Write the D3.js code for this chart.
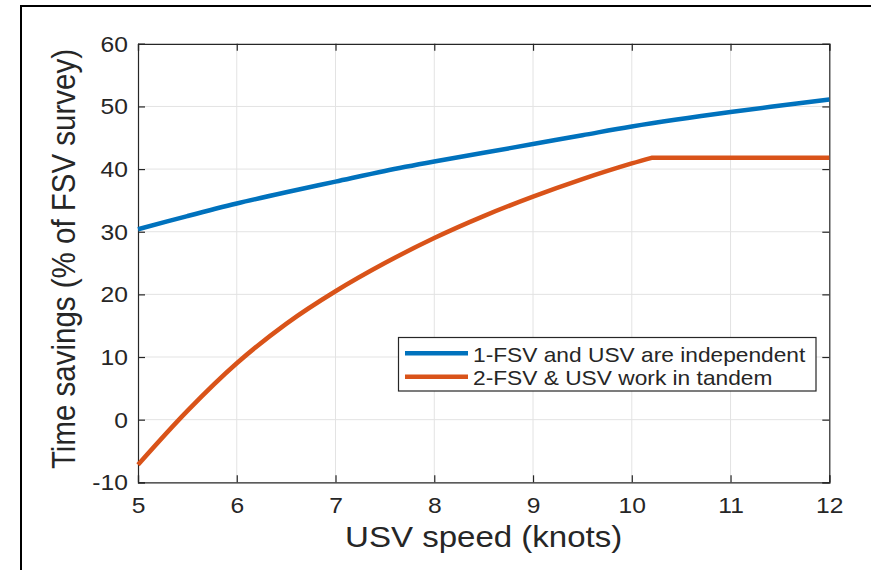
<!DOCTYPE html>
<html>
<head>
<meta charset="utf-8">
<script src="https://cdn.jsdelivr.net/npm/d3@7"></script>
<style>
  body { margin: 0; background: #fff; }
  svg { display: block; font-family: "Liberation Sans", Arial, sans-serif; }
</style>
</head>
<body>
<svg width="871" height="570"></svg>
<script>
// data
const speeds = [5, 5.5, 6, 6.5, 7, 7.5, 8, 8.5, 9, 9.5, 10, 11, 12];
const independent = [30.4, 32.5, 34.5, 36.3, 38.0, 39.7, 41.2, 42.6, 44.0, 45.4, 46.8, 49.1, 51.1];
const tandemSpeeds = [5, 5.5, 6, 6.5, 7, 7.5, 8, 8.5, 9, 9.5, 10, 10.2, 11, 12];
const tandem = [-7.2, 1.4, 9.0, 15.3, 20.5, 25.0, 29.0, 32.5, 35.6, 38.4, 40.9, 41.8, 41.8, 41.8];
const kinkIndex = 11; // tandem curve turns flat here
const xTicks = [5, 6, 7, 8, 9, 10, 11, 12];
const yTicks = [-10, 0, 10, 20, 30, 40, 50, 60];
const seriesNames = ["1-FSV and USV are independent", "2-FSV & USV work in tandem"];
const seriesColors = ["#0072BD", "#D95319"];

const svg = d3.select("svg");
const stretch = "scale(1.12,1)"; // the source picture is a bit wider than tall
const axisColor = "#262626";

// outer frame (top and left only)
svg.append("path")
    .attr("d", "M21,570 V6 H871")
    .attr("fill", "none")
    .attr("stroke", "#000")
    .attr("stroke-width", 2);

const plot = {left: 138, right: 829.3, top: 43.8, bottom: 482.3};

const x = d3.scaleLinear().domain([5, 12]).range([plot.left, plot.right]);
const y = d3.scaleLinear().domain([-10, 60]).range([plot.bottom, plot.top]);

// grid
const grid = svg.append("g").attr("stroke", "#e3e3e3").attr("stroke-width", 1);
grid.selectAll(".gx").data(xTicks.slice(1, -1)).enter().append("line")
    .attr("x1", d => x(d)).attr("x2", d => x(d))
    .attr("y1", plot.top).attr("y2", plot.bottom);
grid.selectAll(".gy").data(yTicks.slice(1, -1)).enter().append("line")
    .attr("x1", plot.left).attr("x2", plot.right)
    .attr("y1", d => y(d)).attr("y2", d => y(d));

const plain = d => String(d); // keep hyphen minus like the source

// axes, ticks inward like matlab
const xAxis = svg.append("g")
    .attr("transform", `translate(0,${plot.bottom})`)
    .call(d3.axisBottom(x).tickValues(xTicks).tickFormat(plain).tickSize(-7).tickPadding(0));
xAxis.selectAll("text")
    .attr("y", 31)
    .attr("dy", null)
    .attr("font-size", 22)
    .attr("transform", stretch);

const yAxis = svg.append("g")
    .attr("transform", `translate(${plot.left},0)`)
    .call(d3.axisLeft(y).tickValues(yTicks).tickFormat(plain).tickSize(-7).tickPadding(0));
yAxis.selectAll("text")
    .attr("x", -9)
    .attr("dy", "0.34em")
    .attr("font-size", 22)
    .attr("transform", stretch);

// top and right ticks
svg.append("g")
    .attr("transform", `translate(0,${plot.top})`)
    .call(d3.axisTop(x).tickValues(xTicks).tickSize(-7).tickFormat(""));
svg.append("g")
    .attr("transform", `translate(${plot.right},0)`)
    .call(d3.axisRight(y).tickValues(yTicks).tickSize(-7).tickFormat(""));

svg.selectAll(".domain, .tick line").attr("stroke", axisColor).attr("stroke-width", 1.2);
svg.selectAll(".tick text").attr("fill", axisColor).attr("font-family", "Liberation Sans, Arial, sans-serif");

// lines
const smooth = d3.line().x(d => x(d[0])).y(d => y(d[1])).curve(d3.curveCatmullRom.alpha(0.5));
const straight = d3.line().x(d => x(d[0])).y(d => y(d[1]));

const blueData = speeds.map((s, i) => [s, independent[i]]);
const orangeData = tandemSpeeds.map((s, i) => [s, tandem[i]]);

svg.append("path")
    .attr("d", smooth(blueData))
    .attr("fill", "none")
    .attr("stroke", seriesColors[0])
    .attr("stroke-width", 4.5);

svg.append("path")
    .attr("d", smooth(orangeData.slice(0, kinkIndex + 1)) + straight(orangeData.slice(kinkIndex)).replace("M", "L"))
    .attr("fill", "none")
    .attr("stroke", seriesColors[1])
    .attr("stroke-width", 4.5)
    .attr("stroke-linejoin", "round");

// legend
const legend = svg.append("g");
legend.append("rect")
    .attr("x", 398.5).attr("y", 337.5)
    .attr("width", 417.5).attr("height", 53.5)
    .attr("fill", "#fff")
    .attr("stroke", axisColor)
    .attr("stroke-width", 1.2);
seriesNames.forEach((name, i) => {
    const rowY = 353.3 + i * 23.4;
    legend.append("line")
        .attr("x1", 405).attr("x2", 468)
        .attr("y1", rowY).attr("y2", rowY)
        .attr("stroke", seriesColors[i])
        .attr("stroke-width", 4.5);
    legend.append("text")
        .attr("transform", `translate(473,${rowY + 8.3}) ${stretch}`)
        .attr("font-size", 20.3)
        .attr("fill", axisColor)
        .text(name);
});

// axis labels
svg.append("text")
    .attr("transform", `translate(${(plot.left + plot.right) / 2},547) ${stretch}`)
    .attr("text-anchor", "middle")
    .attr("font-size", 29.5)
    .attr("fill", axisColor)
    .text("USV speed (knots)");

svg.append("text")
    .attr("transform", `translate(75,259) ${stretch} rotate(-90)`)
    .attr("text-anchor", "middle")
    .attr("font-size", 29.5)
    .attr("fill", axisColor)
    .text("Time savings (% of FSV survey)");
</script>
</body>
</html>
